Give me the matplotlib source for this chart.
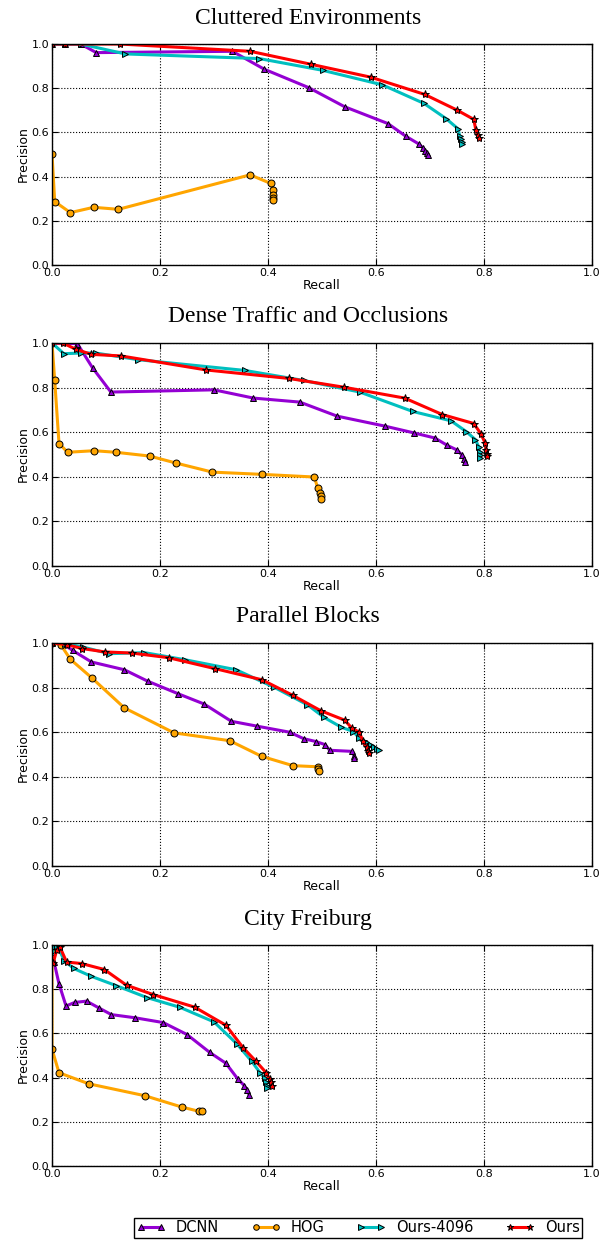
import matplotlib
matplotlib.use("Agg")
import matplotlib.pyplot as plt

titles = ["Cluttered Environments", "Dense Traffic and Occlusions",
          "Parallel Blocks", "City Freiburg"]
methods = ["DCNN", "HOG", "Ours-4096", "Ours"]

# panel 1: cluttered environments
dcnn_r1 = [0, 0.024, 0.053, 0.082, 0.334, 0.393, 0.475, 0.542, 0.622, 0.655, 0.679, 0.687, 0.691, 0.695, 0.696]
dcnn_p1 = [1.0, 1.0, 1.0, 0.961, 0.967, 0.886, 0.803, 0.716, 0.640, 0.583, 0.548, 0.530, 0.515, 0.505, 0.500]
hog_r1 = [0, 0.005, 0.034, 0.077, 0.123, 0.367, 0.405, 0.41, 0.41, 0.41, 0.41]
hog_p1 = [0.503, 0.287, 0.237, 0.261, 0.252, 0.408, 0.369, 0.338, 0.317, 0.305, 0.294]
o4096_r1 = [0, 0.024, 0.053, 0.136, 0.384, 0.501, 0.612, 0.689, 0.730, 0.752, 0.755, 0.757, 0.759, 0.760]
o4096_p1 = [1.0, 1.0, 1.0, 0.955, 0.934, 0.881, 0.815, 0.731, 0.662, 0.616, 0.583, 0.568, 0.556, 0.548]
ours_r1 = [0, 0.024, 0.125, 0.367, 0.48, 0.59, 0.69, 0.75, 0.781, 0.785, 0.789, 0.791]
ours_p1 = [1.0, 1.0, 1.0, 0.967, 0.908, 0.850, 0.772, 0.701, 0.659, 0.610, 0.586, 0.575]

# panel 2: dense traffic and occlusions
dcnn_r2 = [0, 0.047, 0.075, 0.109, 0.30, 0.373, 0.459, 0.528, 0.617, 0.67, 0.709, 0.732, 0.75, 0.759, 0.763, 0.764]
dcnn_p2 = [1.0, 0.997, 0.889, 0.780, 0.790, 0.753, 0.735, 0.672, 0.627, 0.597, 0.574, 0.541, 0.520, 0.498, 0.481, 0.466]
hog_r2 = [0, 0.005, 0.013, 0.029, 0.078, 0.118, 0.181, 0.229, 0.297, 0.388, 0.486, 0.492, 0.496, 0.498, 0.499]
hog_p2 = [1.0, 0.832, 0.549, 0.510, 0.517, 0.510, 0.493, 0.462, 0.421, 0.411, 0.399, 0.349, 0.327, 0.312, 0.301]
o4096_r2 = [0, 0.022, 0.053, 0.081, 0.160, 0.357, 0.466, 0.57, 0.668, 0.739, 0.767, 0.784, 0.790, 0.792, 0.792, 0.792]
o4096_p2 = [1.0, 0.952, 0.955, 0.955, 0.925, 0.877, 0.832, 0.780, 0.693, 0.651, 0.603, 0.567, 0.535, 0.513, 0.496, 0.483]
ours_r2 = [0, 0.02, 0.044, 0.073, 0.128, 0.286, 0.439, 0.540, 0.653, 0.723, 0.781, 0.794, 0.802, 0.804, 0.805, 0.805]
ours_p2 = [1.0, 1.0, 0.972, 0.949, 0.942, 0.879, 0.841, 0.802, 0.753, 0.679, 0.639, 0.594, 0.552, 0.520, 0.504, 0.495]

# panel 3: parallel blocks
dcnn_r3 = [0, 0.02, 0.038, 0.073, 0.134, 0.177, 0.234, 0.282, 0.332, 0.380, 0.44, 0.466, 0.489, 0.506, 0.514, 0.556, 0.559, 0.56]
dcnn_p3 = [1.0, 0.997, 0.967, 0.915, 0.880, 0.829, 0.772, 0.726, 0.649, 0.627, 0.600, 0.571, 0.558, 0.544, 0.519, 0.514, 0.495, 0.483]
hog_r3 = [0, 0.016, 0.034, 0.074, 0.134, 0.226, 0.329, 0.388, 0.446, 0.492, 0.493, 0.494]
hog_p3 = [1.0, 0.993, 0.927, 0.843, 0.709, 0.597, 0.562, 0.492, 0.450, 0.445, 0.435, 0.426]
o4096_r3 = [0, 0.024, 0.057, 0.106, 0.171, 0.246, 0.341, 0.411, 0.473, 0.504, 0.536, 0.558, 0.568, 0.582, 0.59, 0.597, 0.602, 0.605]
o4096_p3 = [1.0, 0.997, 0.982, 0.952, 0.957, 0.925, 0.880, 0.802, 0.723, 0.666, 0.622, 0.603, 0.576, 0.555, 0.543, 0.532, 0.525, 0.519]
ours_r3 = [0, 0.027, 0.056, 0.098, 0.148, 0.216, 0.302, 0.389, 0.446, 0.498, 0.542, 0.555, 0.569, 0.576, 0.583, 0.585, 0.587]
ours_p3 = [1.0, 0.993, 0.975, 0.960, 0.955, 0.934, 0.885, 0.835, 0.765, 0.696, 0.654, 0.619, 0.600, 0.559, 0.532, 0.517, 0.507]

# panel 4: city freiburg
dcnn_r4 = [0, 0.004, 0.013, 0.026, 0.042, 0.064, 0.087, 0.110, 0.153, 0.206, 0.25, 0.292, 0.322, 0.344, 0.356, 0.362, 0.365]
dcnn_p4 = [0.99, 0.921, 0.824, 0.724, 0.740, 0.746, 0.715, 0.685, 0.671, 0.649, 0.595, 0.514, 0.465, 0.394, 0.364, 0.342, 0.321]
hog_r4 = [0, 0, 0.013, 0.068, 0.172, 0.24, 0.273, 0.278]
hog_p4 = [0.98, 0.529, 0.422, 0.372, 0.318, 0.267, 0.247, 0.247]
o4096_r4 = [0, 0.003, 0.01, 0.023, 0.040, 0.073, 0.119, 0.176, 0.237, 0.30, 0.343, 0.37, 0.385, 0.394, 0.396, 0.398, 0.399]
o4096_p4 = [0.96, 0.989, 0.995, 0.929, 0.894, 0.858, 0.816, 0.762, 0.718, 0.652, 0.551, 0.473, 0.423, 0.396, 0.378, 0.363, 0.353]
ours_r4 = [0.002, 0.009, 0.015, 0.027, 0.055, 0.097, 0.138, 0.187, 0.264, 0.322, 0.354, 0.378, 0.397, 0.403, 0.406, 0.408]
ours_p4 = [0.917, 0.979, 0.989, 0.923, 0.916, 0.889, 0.818, 0.776, 0.719, 0.637, 0.535, 0.473, 0.421, 0.393, 0.378, 0.363]

panels = [
    [(dcnn_r1, dcnn_p1), (hog_r1, hog_p1), (o4096_r1, o4096_p1), (ours_r1, ours_p1)],
    [(dcnn_r2, dcnn_p2), (hog_r2, hog_p2), (o4096_r2, o4096_p2), (ours_r2, ours_p2)],
    [(dcnn_r3, dcnn_p3), (hog_r3, hog_p3), (o4096_r3, o4096_p3), (ours_r3, ours_p3)],
    [(dcnn_r4, dcnn_p4), (hog_r4, hog_p4), (o4096_r4, o4096_p4), (ours_r4, ours_p4)],
]

colors = ["#9400d3", "#ffa500", "#00bfbf", "#ff0000"]
markers = ["^", "o", ">", "*"]
msizes = [5, 5, 5, 6]

# axes rectangles in pixels (top, bottom)
rows = [(44, 265), (343, 566), (643, 866), (945, 1166)]
W, H = 609, 1251

fig = plt.figure(figsize=(W / 100, H / 100), dpi=100)
for i, (top, bot) in enumerate(rows):
    ax = fig.add_axes([52 / W, 1 - bot / H, 540 / W, (bot - top) / H])
    for j, (r, p) in enumerate(panels[i]):
        ax.plot(r, p, color=colors[j], marker=markers[j], markersize=msizes[j],
                markeredgecolor="black", markeredgewidth=0.7, linewidth=2.2,
                label=methods[j])
    ax.set_xlim(0, 1)
    ax.set_ylim(0, 1)
    ax.set_xticks([0, 0.2, 0.4, 0.6, 0.8, 1.0])
    ax.set_yticks([0, 0.2, 0.4, 0.6, 0.8, 1.0])
    ax.grid(True, color="black", linestyle=":", linewidth=0.8)
    ax.tick_params(direction="in", top=True, right=True, labelsize=8, length=4, pad=2)
    ax.set_xlabel("Recall", fontsize=9, labelpad=1)
    ax.set_ylabel("Precision", fontsize=9, labelpad=1)
    # titles sit a bit left of the axes centre in the original
    fig.text(308 / W, 1 - (top - 26) / H, titles[i], fontsize=17,
             family="Liberation Serif", ha="center", va="center")
    for s in ax.spines.values():
        s.set_linewidth(1.0)
    if i == 3:
        handles, labels = ax.get_legend_handles_labels()

fig.legend(handles, labels, loc="center", bbox_to_anchor=(358 / W, 1 - 1228 / H),
           ncol=4, fontsize=10.5, numpoints=2, fancybox=False, edgecolor="black",
           framealpha=1, borderpad=0.15, handlelength=2.0, columnspacing=2.2,
           handletextpad=0.7, markerscale=0.8, borderaxespad=0)

fig.savefig("out.png", dpi=100, facecolor="white")
